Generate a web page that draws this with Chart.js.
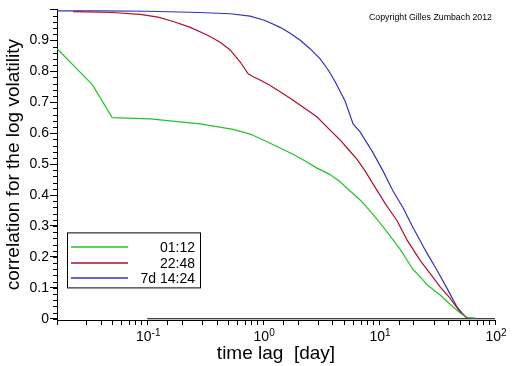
<!DOCTYPE html>
<html>
<head>
<meta charset="utf-8">
<script src="https://cdn.jsdelivr.net/npm/chart.js@4.4.1/dist/chart.umd.min.js"></script>
<style>
  html, body { margin: 0; padding: 0; background: #fff; }
  #wrap { width: 512px; height: 366px; }
</style>
</head>
<body>
<div id="wrap"><canvas id="lagChart" width="512" height="366"></canvas></div>
<script>
// time lag in days, correlation
const lagGreen  = [0.0167, 0.0336, 0.0499, 0.106, 0.286, 0.551, 0.773, 1.08, 1.40, 1.81, 2.30, 2.92, 3.78, 4.61, 5.62, 6.86, 8.53, 10.8, 12.9, 15.2, 17.4, 19.6, 23.9, 25.9, 33.6, 43.5, 49.9, 57.4, 67.2];
const corrGreen = [0.873, 0.757, 0.650, 0.646, 0.630, 0.612, 0.597, 0.572, 0.552, 0.532, 0.510, 0.487, 0.466, 0.443, 0.413, 0.384, 0.345, 0.298, 0.260, 0.224, 0.190, 0.160, 0.126, 0.110, 0.077, 0.038, 0.019, 0.004, 0.003];

const lagRed  = [0.0230, 0.0499, 0.0871, 0.124, 0.168, 0.235, 0.329, 0.426, 0.519, 0.634, 0.743, 0.820, 0.942, 1.15, 1.40, 1.71, 2.09, 2.54, 2.92, 3.78, 4.61, 5.30, 6.46, 7.57, 8.87, 11.3, 14.3, 17.4, 22.6, 27.5, 33.6, 40.9, 49.9, 57.4, 60.9];
const corrRed = [0.993, 0.990, 0.984, 0.975, 0.961, 0.942, 0.917, 0.894, 0.869, 0.830, 0.792, 0.782, 0.772, 0.754, 0.734, 0.713, 0.690, 0.668, 0.652, 0.610, 0.578, 0.552, 0.515, 0.478, 0.436, 0.372, 0.317, 0.255, 0.189, 0.147, 0.103, 0.067, 0.022, 0.002, 0.001];

const lagBlue  = [0.0167, 0.0394, 0.1, 0.286, 0.519, 0.773, 1.04, 1.40, 1.71, 2.09, 2.54, 3.10, 3.63, 4.18, 5.09, 5.97, 6.86, 8.71, 10.8, 13.2, 16.1, 19.6, 25.9, 31.6, 38.5, 47.0, 52.0, 57.4, 63.4];
const corrBlue = [0.995, 0.995, 0.994, 0.990, 0.986, 0.978, 0.964, 0.942, 0.923, 0.900, 0.873, 0.840, 0.805, 0.766, 0.704, 0.630, 0.604, 0.542, 0.478, 0.413, 0.359, 0.295, 0.212, 0.157, 0.099, 0.038, 0.019, 0.002, 0.001];

const lagZero  = [0.1, 100];
const corrZero = [0, 0];

const seriesLabels = ['01:12', '22:48', '7d 14:24'];
const seriesColors = ['#22c422', '#b0102a', '#3232c0'];
const decades = [-1, 0, 1, 2];

const FONT = "'Liberation Sans', Arial, sans-serif";

function toPoints(xs, ys) {
    return xs.map((v, i) => ({ x: v, y: ys[i] }));
}

// extra drawing: minor y ticks, decade labels, boxed legend, copyright
const extrasPlugin = {
    id: 'extras',
    afterDraw(chart) {
        const { ctx, chartArea: a, scales: { x, y } } = chart;
        ctx.save();
        ctx.strokeStyle = '#000';
        ctx.fillStyle = '#000';
        ctx.lineWidth = 1;

        // minor ticks every 0.02
        for (let i = 0; i <= 50; i++) {
            const py = Math.round(y.getPixelForValue(i * 0.02)) + 0.5;
            ctx.beginPath();
            ctx.moveTo(a.left - 4, py);
            ctx.lineTo(a.left, py);
            ctx.stroke();
        }

        // 10^n labels
        ctx.textBaseline = 'alphabetic';
        ctx.textAlign = 'left';
        decades.forEach(e => {
            const px = x.getPixelForValue(Math.pow(10, e));
            const sup = String(e);
            ctx.font = '14px ' + FONT;
            const w1 = ctx.measureText('10').width;
            ctx.font = '10px ' + FONT;
            const w2 = ctx.measureText(sup).width;
            const x0 = px - (w1 + w2) / 2 + 1;
            ctx.font = '14px ' + FONT;
            ctx.fillText('10', x0, a.bottom + 21);
            ctx.font = '10px ' + FONT;
            ctx.fillText(sup, x0 + w1, a.bottom + 16);
        });

        // legend box
        const bx = a.left + 10, by = a.top + 223;
        ctx.strokeStyle = '#000';
        ctx.strokeRect(bx + 0.5, by + 0.5, 133, 55);
        ctx.font = '14px ' + FONT;
        ctx.textAlign = 'right';
        ctx.textBaseline = 'middle';
        seriesLabels.forEach((lbl, i) => {
            const ry = Math.round(by + 15 + i * 15.5);
            ctx.strokeStyle = seriesColors[i];
            ctx.lineWidth = 1.6;
            ctx.beginPath();
            ctx.moveTo(bx + 4, ry);
            ctx.lineTo(bx + 61, ry);
            ctx.stroke();
            ctx.fillStyle = '#000';
            ctx.fillText(lbl, bx + 128, ry + 1);
        });

        // copyright note
        ctx.font = '9px ' + FONT;
        ctx.textAlign = 'left';
        ctx.fillText('Copyright Gilles Zumbach 2012', a.right - 126, a.top + 8, 123);
        ctx.restore();
    }
};

const ctx = document.getElementById('lagChart').getContext('2d');
const lagChart = new Chart(ctx, {
    type: 'scatter',
    data: {
        datasets: [
            { label: seriesLabels[0], data: toPoints(lagGreen, corrGreen), borderColor: seriesColors[0] },
            { label: seriesLabels[1], data: toPoints(lagRed, corrRed), borderColor: seriesColors[1] },
            { label: seriesLabels[2], data: toPoints(lagBlue, corrBlue), borderColor: seriesColors[2] },
            { label: 'zero', data: toPoints(lagZero, corrZero), borderColor: '#000' }
        ].map(d => Object.assign(d, {
            showLine: true, pointRadius: 0, borderWidth: 1.2, tension: 0, fill: false
        }))
    },
    options: {
        responsive: false,
        animation: false,
        devicePixelRatio: 1,
        layout: { padding: { top: 7, right: 17, left: 0, bottom: 0 } },
        plugins: { legend: { display: false }, tooltip: { enabled: false } },
        scales: {
            x: {
                type: 'logarithmic',
                position: 'bottom',
                min: 1 / 60,
                max: 100,
                grid: { drawOnChartArea: false, tickLength: 5, color: '#000' },
                border: { color: '#000' },
                ticks: { autoSkip: false, maxRotation: 0, callback: () => '' },
                title: {
                    display: true, text: 'time lag  [day]', color: '#000',
                    font: { family: FONT, size: 19 }, padding: { top: 0, bottom: 1 }
                },
                afterFit(s) { s.height = 46; }
            },
            y: {
                min: -0.004,
                max: 1,
                grid: { drawOnChartArea: false, tickLength: 7, color: '#000' },
                border: { color: '#000' },
                ticks: {
                    stepSize: 0.1,
                    includeBounds: false,
                    padding: 1,
                    color: '#000',
                    font: { family: FONT, size: 14 },
                    callback: v => v > 0.95 ? '' : (Math.abs(v) < 1e-9 ? '0' : v.toFixed(1))
                },
                title: {
                    display: true, text: 'correlation for the log volatility', color: '#000',
                    font: { family: FONT, size: 19 }, padding: { top: 2, bottom: 0 }
                },
                afterFit(s) { s.width = 57; }
            }
        }
    },
    plugins: [extrasPlugin]
});
</script>
</body>
</html>
